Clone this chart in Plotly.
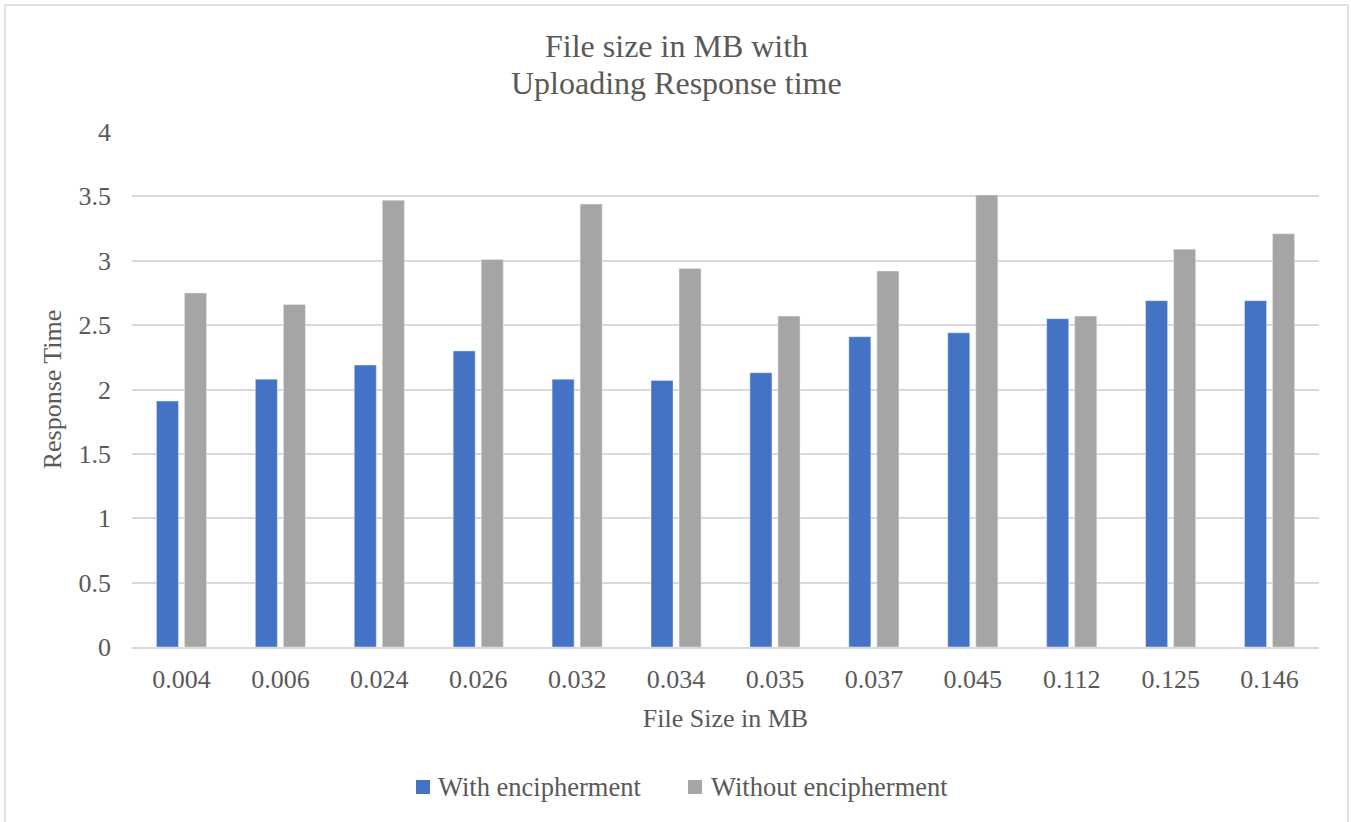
import plotly.graph_objects as go

# File sizes (MB) used as category labels
file_sizes = ["0.004", "0.006", "0.024", "0.026", "0.032", "0.034",
              "0.035", "0.037", "0.045", "0.112", "0.125", "0.146"]

# Uploading response times
with_encipherment = [1.91, 2.08, 2.19, 2.30, 2.08, 2.07,
                     2.13, 2.41, 2.44, 2.55, 2.69, 2.69]
without_encipherment = [2.75, 2.66, 3.47, 3.01, 3.44, 2.94,
                        2.57, 2.92, 3.51, 2.57, 3.09, 3.21]

y_ticks = [0, 0.5, 1, 1.5, 2, 2.5, 3, 3.5, 4]

series_names = ["With encipherment", "Without encipherment"]
series_colors = ["#4472C4", "#A5A5A5"]

FONT = "Liberation Serif"
TEXT = "#595959"
GRID = "#d9d9d9"

W, H = 1351, 822
L, R, T, B = 132, 32, 132, 175
PW, PH = W - L - R, H - T - B


def px_x(p):
    return (p - L) / PW


def px_y(p):
    return (H - B - p) / PH


fig = go.Figure()
for name, vals, col in zip(series_names, [with_encipherment, without_encipherment], series_colors):
    fig.add_trace(go.Bar(name=name, x=file_sizes, y=vals, marker=dict(color=col),
                         showlegend=False))

fig.update_layout(
    width=W, height=H,
    margin=dict(l=L, r=R, t=T, b=B, autoexpand=False),
    paper_bgcolor="white", plot_bgcolor="white",
    barmode="group", bargap=0.433, bargroupgap=0.214,
    font=dict(family=FONT, size=26, color=TEXT),
    showlegend=False,
    xaxis=dict(type="category", showgrid=False, showline=True, linecolor=GRID,
               linewidth=1.5, ticks="", ticklabelstandoff=8,
               tickfont=dict(size=26, color=TEXT),
               title=dict(text="File Size in MB", font=dict(size=26, color=TEXT),
                          standoff=16)),
    yaxis=dict(range=[0, 4], tickvals=y_ticks, ticktext=[f"{v:g}" for v in y_ticks],
               showgrid=True, gridcolor=GRID, gridwidth=1.5, zeroline=False,
               showline=False, ticks="", ticklabelstandoff=20,
               tickfont=dict(size=26, color=TEXT),
               title=dict(text="Response Time", font=dict(size=26, color=TEXT),
                          standoff=9)),
)

# two-line chart title, centred on the whole chart
fig.add_annotation(text="File size in MB with", xref="paper", yref="paper",
                   x=px_x(676.5), y=px_y(46), xanchor="center", yanchor="middle",
                   showarrow=False, font=dict(family=FONT, size=32, color=TEXT))
fig.add_annotation(text="Uploading Response time", xref="paper", yref="paper",
                   x=px_x(676.5), y=px_y(83), xanchor="center", yanchor="middle",
                   showarrow=False, font=dict(family=FONT, size=32, color=TEXT))

# legend: colour key squares with labels
legend_square_left = [416, 688]
legend_text_left = [436, 709]
legend_mid = 787
for name, col, sq, tx in zip(series_names, series_colors, legend_square_left, legend_text_left):
    fig.add_shape(type="rect", xref="paper", yref="paper",
                  x0=px_x(sq), x1=px_x(sq + 14), y0=px_y(legend_mid - 7), y1=px_y(legend_mid + 7),
                  line=dict(width=0), fillcolor=col)
    fig.add_annotation(text=name, xref="paper", yref="paper",
                       x=px_x(tx), y=px_y(legend_mid), xanchor="left", yanchor="middle",
                       showarrow=False, font=dict(family=FONT, size=26.5, color=TEXT))

# chart frame
fig.add_shape(type="rect", xref="paper", yref="paper",
              x0=px_x(5), x1=px_x(1348), y0=px_y(5), y1=px_y(826),
              line=dict(color=GRID, width=1.5), fillcolor="rgba(0,0,0,0)", layer="below")

fig.write_html("out.html")
